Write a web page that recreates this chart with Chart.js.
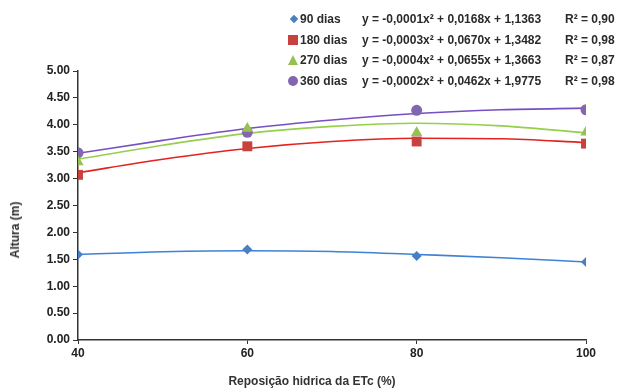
<!DOCTYPE html>
<html>
<head>
<meta charset="utf-8">
<script src="https://cdn.jsdelivr.net/npm/chart.js@4.4.0/dist/chart.umd.min.js"></script>
<style>
  html, body { margin: 0; padding: 0; background: #fff; }
  .wrap { position: relative; width: 622px; height: 391px; font-family: "Liberation Sans", Arial, sans-serif; color: #2a2a2a; }
  canvas { position: absolute; left: 0; top: 0; }
  .legend { position: absolute; left: 0; top: 0; font-weight: bold; font-size: 12px; }
  .row { position: absolute; height: 14px; line-height: 14px; white-space: nowrap; }
  .row span { position: absolute; top: 0; }
  .mk { position: absolute; }
  .ytitle { position: absolute; left: 15px; top: 230px; transform: translate(-50%, -50%) rotate(-90deg); font-weight: bold; font-size: 12px; white-space: nowrap; }
  .xtitle { position: absolute; left: 312px; top: 381px; transform: translate(-50%, -50%); font-weight: bold; font-size: 12px; white-space: nowrap; color: #333; }
</style>
</head>
<body>
<div class="wrap">
  <canvas id="chart" width="622" height="391"></canvas>
  <div class="legend" id="legend"></div>
  <div class="ytitle">Altura (m)</div>
  <div class="xtitle">Reposição hidrica da ETc (%)</div>
</div>
<script>
// measured points (Reposição hídrica, %)
const xValues = [40, 60, 80, 100];
const dias90 = [1.59, 1.68, 1.56, 1.45];
const dias180 = [3.07, 3.60, 3.69, 3.65];
const dias270 = [3.31, 3.93, 3.85, 3.86];
const dias360 = [3.48, 3.86, 4.27, 4.28];

// trend curves
const trendX = [40, 50, 60, 70, 80, 90, 100];
const trend90 = [1.59, 1.64, 1.66, 1.645, 1.59, 1.53, 1.45];
const trend180 = [3.11, 3.36, 3.56, 3.69, 3.75, 3.74, 3.67];
const trend270 = [3.36, 3.62, 3.84, 3.97, 4.03, 3.98, 3.85];
const trend360 = [3.47, 3.71, 3.93, 4.09, 4.21, 4.28, 4.31];

const seriesNames = ['90 dias', '180 dias', '270 dias', '360 dias'];
const equations = [
  'y = -0,0001x² + 0,0168x + 1,1363',
  'y = -0,0003x² + 0,0670x + 1,3482',
  'y = -0,0004x² + 0,0655x + 1,3663',
  'y = -0,0002x² + 0,0462x + 1,9775'
];
const rSquared = ['R² = 0,90', 'R² = 0,98', 'R² = 0,87', 'R² = 0,98'];
const yTicks = [0, 0.5, 1, 1.5, 2, 2.5, 3, 3.5, 4, 4.5, 5];
const xTicks = [40, 60, 80, 100];

const markerColors = ['#4a7fc4', '#c9413c', '#96c152', '#8466b0'];
const lineColors = ['#3d82d6', '#e2231f', '#94d04a', '#7650c0'];
const markerStyles = ['rectRot', 'rect', 'triangle', 'circle'];
const markerRadius = [5, 7, 6.5, 5.5];

const pointSets = [dias90, dias180, dias270, dias360];
const trendSets = [trend90, trend180, trend270, trend360];

const datasets = [];
pointSets.forEach((vals, i) => {
  datasets.push({
    label: seriesNames[i],
    data: xValues.map((x, k) => ({ x: x, y: vals[k] })),
    showLine: false,
    pointStyle: markerStyles[i],
    pointRadius: markerRadius[i],
    backgroundColor: markerColors[i],
    borderColor: markerColors[i],
    borderWidth: 0
  });
});
trendSets.forEach((vals, i) => {
  datasets.push({
    label: seriesNames[i] + ' trend',
    data: trendX.map((x, k) => ({ x: x, y: vals[k] })),
    showLine: true,
    pointRadius: 0,
    borderColor: lineColors[i],
    borderWidth: 1.6,
    tension: 0.4,
    cubicInterpolationMode: 'monotone'
  });
});

const tickFont = { family: '"Liberation Sans", Arial, sans-serif', size: 12, weight: 'bold' };

new Chart(document.getElementById('chart'), {
  type: 'scatter',
  data: { datasets: datasets },
  options: {
    responsive: false,
    animation: false,
    layout: { padding: { left: 0, right: 36, top: 71, bottom: 0 } },
    plugins: { legend: { display: false }, tooltip: { enabled: false } },
    scales: {
      x: {
        type: 'linear',
        min: 40,
        max: 100,
        afterBuildTicks: (scale) => { scale.ticks = xTicks.map(v => ({ value: v })); },
        afterFit: (scale) => { scale.height = 51; },
        grid: { drawOnChartArea: false, drawTicks: true, tickLength: 4, color: '#333' },
        border: { color: '#333', width: 1.5 },
        ticks: { color: '#222', font: tickFont, padding: 2 }
      },
      y: {
        min: 0,
        max: 5,
        afterBuildTicks: (scale) => { scale.ticks = yTicks.map(v => ({ value: v })); },
        afterFit: (scale) => { scale.width = 78; },
        grid: { drawOnChartArea: false, drawTicks: true, tickLength: 5, color: '#333' },
        border: { color: '#333', width: 1.5 },
        ticks: { color: '#222', font: tickFont, padding: 3, callback: (v) => Number(v).toFixed(2) }
      }
    }
  }
});

// legend with trend equations, top right
const rowTops = [12, 33, 53, 74];
const legend = document.getElementById('legend');
seriesNames.forEach((name, i) => {
  const row = document.createElement('div');
  row.className = 'row';
  row.style.top = rowTops[i] + 'px';
  row.style.left = '0px';
  const mk = document.createElement('div');
  mk.className = 'mk';
  const c = markerColors[i];
  if (markerStyles[i] === 'rectRot') {
    mk.style.cssText = `left:291px;top:4px;width:6px;height:6px;background:${c};transform:rotate(45deg);`;
  } else if (markerStyles[i] === 'rect') {
    mk.style.cssText = `left:288px;top:2px;width:10px;height:10px;background:${c};`;
  } else if (markerStyles[i] === 'triangle') {
    mk.style.cssText = `left:288px;top:2px;width:0;height:0;border-left:5px solid transparent;border-right:5px solid transparent;border-bottom:10px solid ${c};`;
  } else {
    mk.style.cssText = `left:288px;top:2px;width:10px;height:10px;border-radius:50%;background:${c};`;
  }
  row.appendChild(mk);
  const n = document.createElement('span');
  n.textContent = name;
  n.style.left = '300px';
  row.appendChild(n);
  const e = document.createElement('span');
  e.textContent = equations[i];
  e.style.left = '362px';
  row.appendChild(e);
  const r = document.createElement('span');
  r.textContent = rSquared[i];
  r.style.left = '565px';
  row.appendChild(r);
  legend.appendChild(row);
});
</script>
</body>
</html>
